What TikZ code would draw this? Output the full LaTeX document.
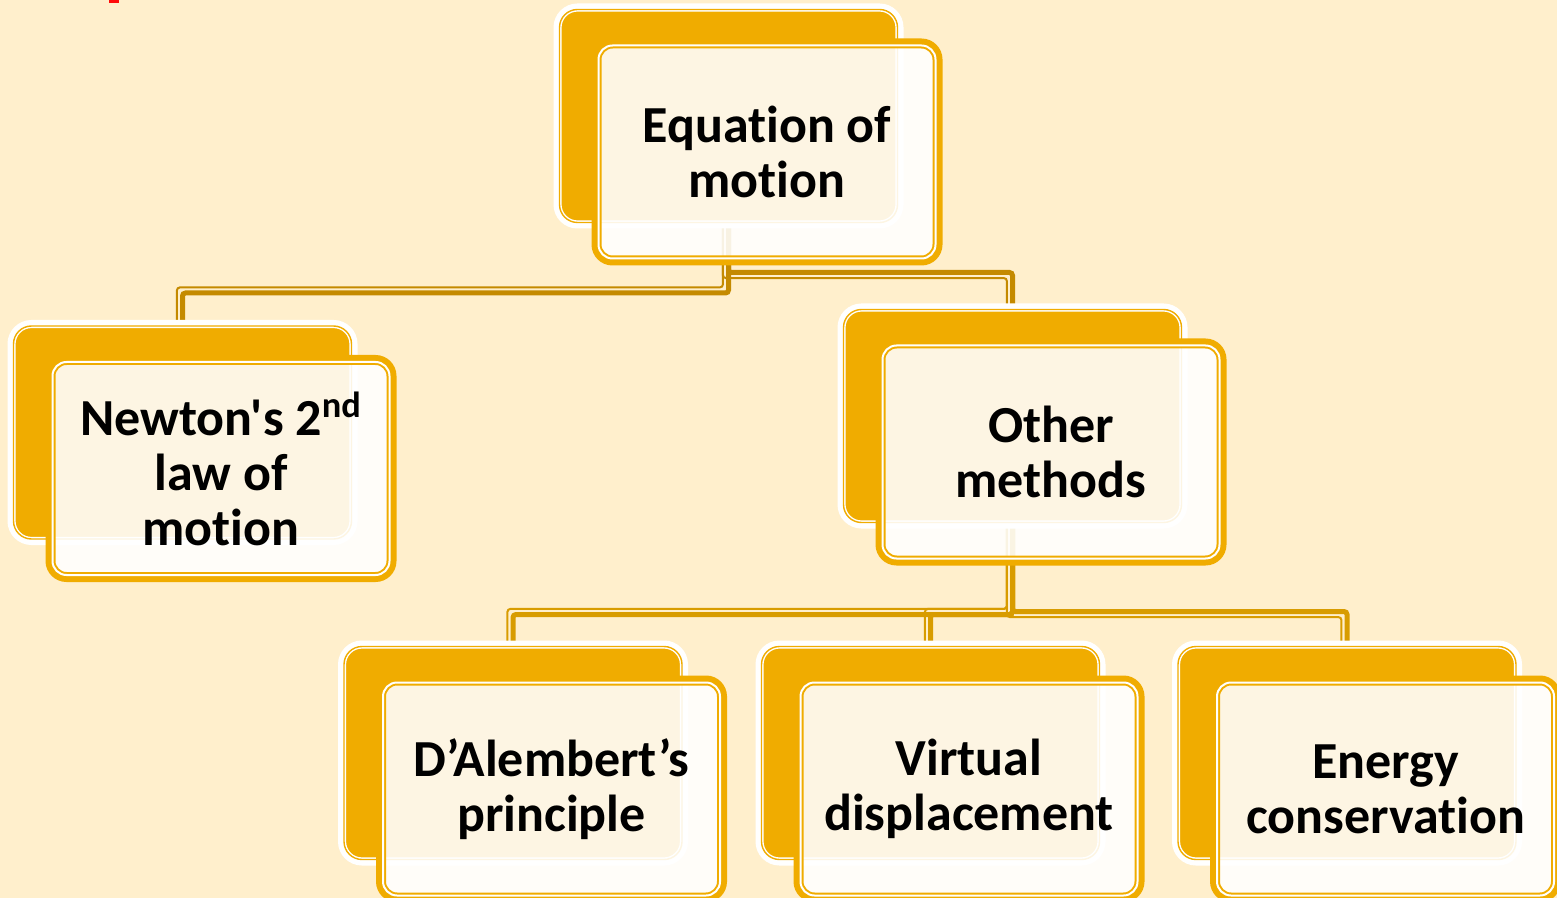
\documentclass[tikz,border=0pt]{standalone}
\usepackage{fontspec}
\newfontfamily\carl{Carlito}[Ligatures=CommonOff]
\newcommand{\nolig}{\kern0pt }
\usetikzlibrary{calc}
\definecolor{bgc}{HTML}{FFEFCC}
\definecolor{gold}{HTML}{F0AC00}
\definecolor{connA}{HTML}{C48A00}
\definecolor{connB}{HTML}{D89C00}
\definecolor{markred}{HTML}{FF0A0A}
\pgfdeclarelayer{bgl}
\pgfdeclarelayer{connl}
\pgfdeclarelayer{bandl}
\pgfsetlayers{bgl,connl,bandl,main}
\newcommand{\itembox}[4]{%
  \node[backbox] (#1b) at (#2,#3) {};
  \node[frontbox] (#1) at ($(#1b)+(38.5,36)$) {#4};
  \draw[innerline] ($(#1.north west)+(2pt,-2pt)$) rectangle ($(#1.south east)+(-2pt,2pt)$);
  \begin{pgfonlayer}{bandl}
    \draw[band] (#1b.north west) rectangle (#1b.south east);
  \end{pgfonlayer}}
\newcommand{\treelink}[5]{%
  \draw[thickconn,#5] (#1.center) |- ([yshift=#3]#2.north) -- (#2.center);
  \draw[thinconn,#5] ([xshift=-2.8pt]#1.center) |- ([xshift=-2.8pt,yshift=#3#4]#2.north) -- ([xshift=-2.8pt]#2.center);}
\begin{document}
\begin{tikzpicture}[x=0.5pt,y=-0.5pt,
  backbox/.style={rectangle, rounded corners=9pt, minimum width=169pt, minimum height=106.5pt,
    outer sep=0pt, inner sep=0pt, fill=gold, draw=white, double=gold, line width=0.7pt, double distance=0.7pt},
  band/.style={draw=white, line width=6pt, rounded corners=9pt},
  frontbox/.style={rectangle, rounded corners=9pt, minimum width=172.5pt, minimum height=110.5pt,
    outer sep=0pt, inner sep=0pt, draw=gold, line width=3pt, fill=white, fill opacity=0.89, text opacity=1,
    align=center, font=\carl\fontsize{26pt}{27.5pt}\selectfont\bfseries},
  innerline/.style={draw=gold, double=white, line width=1pt, double distance=1pt, rounded corners=7pt},
  thickconn/.style={line width=2.5pt, rounded corners=1.5pt},
  thinconn/.style={line width=1pt, rounded corners=1.5pt}]
\useasboundingbox (0,0) rectangle (1557,898);
\clip (0,0) rectangle (1557,898);
\begin{pgfonlayer}{bgl}
  \fill[bgc] (0,0) rectangle (1557,898);
\end{pgfonlayer}
\fill[markred] (109,0) rectangle (119,3);
\itembox{top}{728.5}{116}{Equat\nolig ion of\\mot\nolig ion}
\itembox{newton}{182.5}{432.5}{Newton's 2\textsuperscript{nd}\\law of\\mot\nolig ion}
\itembox{other}{1012.5}{416}{Other\\methods}
\itembox{dal}{513}{753}{D’Alembert’s\\principle}
\itembox{virt}{930.5}{753}{Virtual\\displacement}
\itembox{energy}{1347}{753}{Energy\\conservat\nolig ion}
\begin{pgfonlayer}{connl}
  \treelink{topb}{newtonb}{16.5pt}{+2.8pt}{connA}
  \treelink{topb}{otherb}{18.5pt}{-2.8pt}{connA}
  \treelink{otherb}{dalb}{16pt}{+2.8pt}{connB}
  \treelink{otherb}{virtb}{16pt}{+2.8pt}{connB}
  \treelink{otherb}{energyb}{17.5pt}{-2.8pt}{connB}
\end{pgfonlayer}
\end{tikzpicture}
\end{document}
